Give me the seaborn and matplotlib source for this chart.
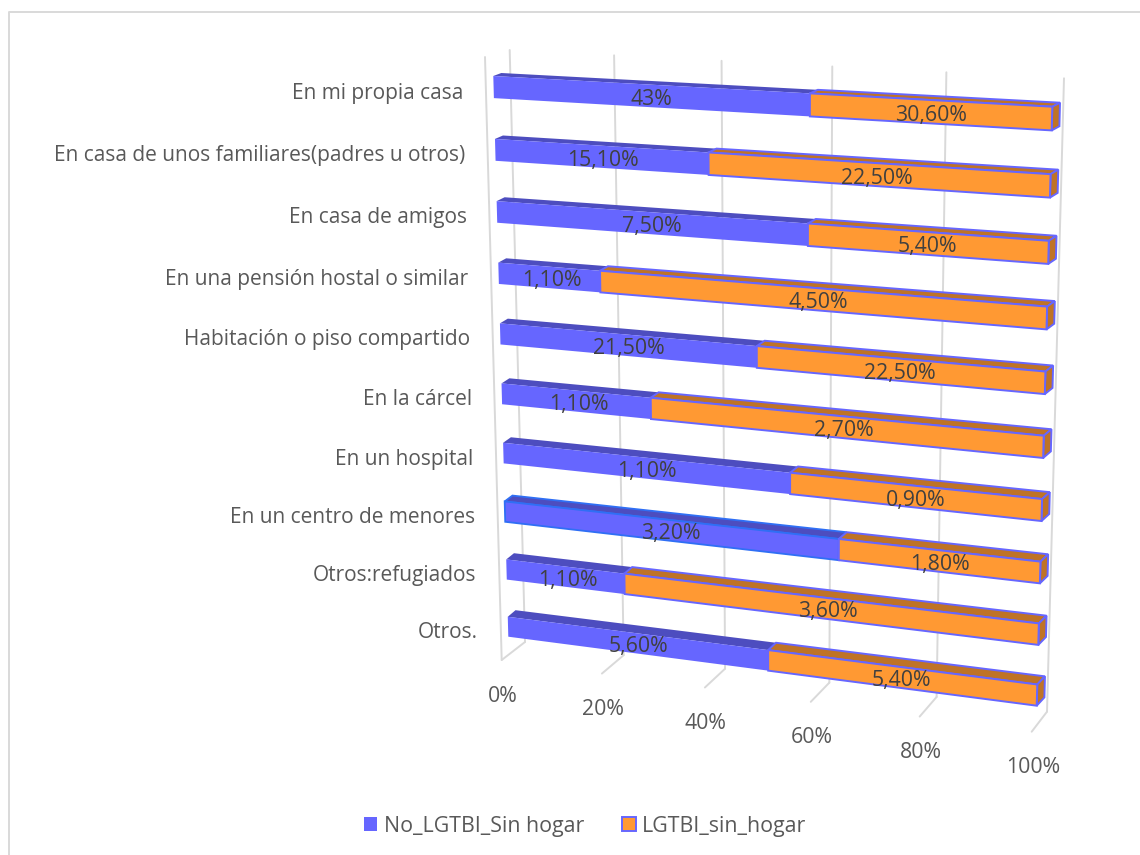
import numpy as np
import pandas as pd
import matplotlib
matplotlib.use('Agg')
import matplotlib.pyplot as plt
import seaborn as sns
from matplotlib.patches import Polygon
from matplotlib.lines import Line2D
from matplotlib.transforms import Transform, Affine2D

# datos
categorias = ['En mi propia casa', 'En casa de unos familiares(padres u otros)', 'En casa de amigos',
              'En una pensión hostal o similar', 'Habitación o piso compartido', 'En la cárcel',
              'En un hospital', 'En un centro de menores', 'Otros:refugiados', 'Otros.']
no_lgtbi = [43, 15.1, 7.5, 1.1, 21.5, 1.1, 1.1, 3.2, 1.1, 5.6]
lgtbi = [30.6, 22.5, 5.4, 4.5, 22.5, 2.7, 0.9, 1.8, 3.6, 5.4]
ticks = [0, 20, 40, 60, 80, 100]

AZUL = '#6666FF'
AZUL_OSC = '#4D4DBF'
NARANJA = '#FF9933'
NARANJA_OSC = '#BF7326'
GRIS = '#D9D9D9'
W, H = 1140, 855
ANCHO = 0.35


class Homografia(Transform):
    # proyeccion plana: (x, y) de datos -> pixeles de la imagen
    input_dims = 2
    output_dims = 2
    is_affine = False

    def __init__(self, src, dst):
        super().__init__()
        A, b = [], []
        for (x, y), (u, v) in zip(src, dst):
            A.append([x, y, 1, 0, 0, 0, -u * x, -u * y])
            A.append([0, 0, 0, x, y, 1, -v * x, -v * y])
            b += [u, v]
        self.m = np.append(np.linalg.solve(np.array(A, float), np.array(b, float)), 1).reshape(3, 3)

    def transform_non_affine(self, values):
        p = np.column_stack([values, np.ones(len(values))]) @ self.m.T
        return p[:, :2] / p[:, 2:]


sns.set_theme(style='white')
plt.rcParams['font.family'] = ['Open Sans', 'DejaVu Sans']

fig = plt.figure(figsize=(W / 100, H / 100), dpi=100)
ax = fig.add_axes([0, 0, 1, 1])
px = Affine2D().scale(1 / W, -1 / H).translate(0, 1) + fig.transFigure

n = len(categorias)
y0, y1 = -ANCHO / 2, n - 1 + ANCHO / 2
esquinas = [(0, y0), (1, y0), (0, y1), (1, y1)]
frente = Homografia(esquinas, [(493.3, 76), (1052.3, 106.7), (508.3, 636.7), (1036.7, 705.7)])
fondo = Homografia(esquinas, [(501.3, 73), (1060, 102.7), (516, 630), (1044.4, 697.4)])
pared = Homografia([(0, 0), (1, 0), (0, 1), (1, 1)], [(509.7, 50), (1064, 78.3), (525, 642), (1047, 711.7)])
suelo = Homografia([(0, 0), (1, 0), (0, 1), (1, 1)], [(485, 57), (1047, 87), (501.7, 660), (1031.7, 731.7)])

df = pd.DataFrame({'categoria': categorias, 'no': no_lgtbi, 'si': lgtbi})
total = df['no'] + df['si']
df['parte_no'] = df['no'] / total
df['parte_si'] = df['si'] / total

sns.barplot(data=df, y='categoria', x='parte_no', color=AZUL, saturation=1, width=ANCHO,
            errorbar=None, linewidth=0, label='No_LGTBI_Sin hogar', ax=ax)
sns.barplot(data=df, y='categoria', x='parte_si', left=df['parte_no'].values, color=NARANJA, saturation=1,
            width=ANCHO, errorbar=None, edgecolor=AZUL, linewidth=1.4, label='LGTBI_sin_hogar', ax=ax)

leg = ax.legend(loc='center', bbox_to_anchor=(585 / W, 1 - 826 / H), bbox_transform=fig.transFigure, ncol=2,
                frameon=False, fontsize=15.4, labelcolor='#595959', handlelength=0.65, handleheight=0.65,
                handletextpad=0.3, columnspacing=1.75)
ax.axis('off')

for k, (cont, oscuro, z) in enumerate([(ax.containers[0], AZUL_OSC, 2.0), (ax.containers[1], NARANJA_OSC, 2.2)]):
    for i, barra in enumerate(cont):
        x, yb, w, h = barra.get_x(), barra.get_y(), barra.get_width(), barra.get_height()
        borde = AZUL if k == 1 else oscuro
        lw = 1.4 if k == 1 else 0
        sel = (i == 7 and k == 0)
        if sel:
            borde, lw = '#2F6FF5', 1.3
        # cara superior
        sup = np.vstack([frente.transform([(x, yb), (x + w, yb)]), fondo.transform([(x + w, yb), (x, yb)])])
        ax.add_patch(Polygon(sup, closed=True, facecolor=oscuro, edgecolor=borde, linewidth=lw,
                             transform=px, zorder=z, clip_on=False))
        if k == 1:
            # cara lateral derecha
            lat = np.vstack([frente.transform([(x + w, yb), (x + w, yb + h)]),
                             fondo.transform([(x + w, yb + h), (x + w, yb)])])
            ax.add_patch(Polygon(lat, closed=True, facecolor=oscuro, edgecolor=borde, linewidth=lw,
                                 transform=px, zorder=z, clip_on=False))
        barra.set_transform(frente + px)
        barra.set_zorder(3 + k)
        barra.set_clip_on(False)
        if sel:
            barra.set_edgecolor(borde)
            barra.set_linewidth(lw)


def etiqueta(v):
    if float(v).is_integer():
        return f'{int(v)}%'
    return f'{v:.2f}%'.replace('.', ',')


baja_no = Affine2D().translate(3, 3.5)
baja_si = Affine2D().translate(1.5, 3.5)
for i in range(n):
    p = df['parte_no'][i]
    ax.text(p / 2, i, etiqueta(no_lgtbi[i]), transform=frente + baja_no + px, ha='center', va='center',
            fontsize=15.3, color='#404040', zorder=6)
    ax.text(p + (1 - p) / 2, i, etiqueta(lgtbi[i]), transform=frente + baja_si + px, ha='center', va='center',
            fontsize=15.3, color='#404040', zorder=6)
    ax.text(0, i, categorias[i], transform=frente + Affine2D().translate(-30, 6) + px, ha='right', va='center',
            fontsize=15, color='#595959', zorder=6)

# rejilla de la pared y del suelo
for t in ticks:
    f = t / 100
    ax.plot([f, f], [0, 1], color=GRIS, lw=1.4, transform=pared + px, zorder=1, clip_on=False)
    a = pared.transform([(f, 1)])[0]
    b = suelo.transform([(f, 1)])[0]
    ax.plot([a[0], b[0]], [a[1], b[1]], color=GRIS, lw=1.4, transform=px, zorder=1, clip_on=False)
    ax.text(f, 1, f'{t}%', transform=suelo + Affine2D().translate(1, 36) + px, ha='center', va='center',
            fontsize=15.3, color='#595959')
ax.plot([0, 0], [0, 1], color=GRIS, lw=1.4, transform=suelo + px, zorder=1, clip_on=False)

# marco exterior: solo izquierda y arriba
fig.add_artist(Line2D([9, 9, 1140], [855, 12, 12], color=GRIS, lw=1.4, transform=px))

fig.savefig('out.png', dpi=100)
